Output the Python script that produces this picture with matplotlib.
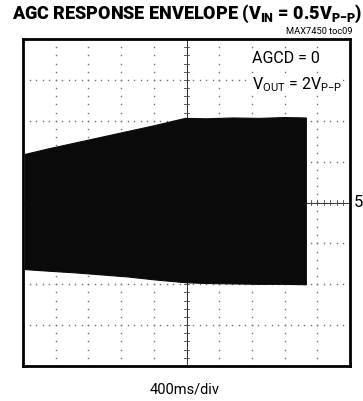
import matplotlib
matplotlib.use("Agg")
import matplotlib.pyplot as plt
import numpy as np

# ---- data (divisions: x 0..10 @400ms/div, y -4..4) ----
env_t = [0.06, 0.8, 1.6, 2.4, 3.2, 4.0, 4.95, 5.6, 6.4, 7.2, 8.0, 8.65]
env_top = [1.19, 1.33, 1.47, 1.61, 1.75, 1.89, 2.07, 2.06, 2.08, 2.07, 2.09, 2.08]
env_bot = [-1.63, -1.67, -1.71, -1.76, -1.81, -1.88, -1.95, -1.97, -1.98, -1.99, -1.99, -2.00]

title = r"AGC RESPONSE ENVELOPE (V$_{\mathbf{IN}}$ = 0.5V$_{\mathbf{P{-}P}}$)"
note = "MAX7450 toc09"
ann1 = "AGCD = 0"
ann2 = r"V$_{\mathrm{OUT}}$ = 2V$_{\mathrm{P{-}P}}$"
xlabel = "400ms/div"
marker_label = "5"

plt.rcParams['font.family'] = ['Roboto', 'DejaVu Sans']
plt.rcParams['mathtext.fontset'] = 'custom'
plt.rcParams['mathtext.rm'] = 'Roboto'
plt.rcParams['mathtext.bf'] = 'Roboto:black'

fig = plt.figure(figsize=(3.63, 4.02), dpi=100)
ax = fig.add_axes([23/363, 1-367/402, 327/363, 327/402])
ax.set_xlim(0, 10)
ax.set_ylim(-4, 4)
ax.set_xticks([]); ax.set_yticks([])
for s in ax.spines.values():
    s.set_linewidth(2.0)
    s.set_zorder(10)

# dotted grid
step = 0.2
xs = np.arange(0, 10.001, step)
ys = np.arange(-4, 4.001, step)
for gy in range(-3, 4):
    if gy == 0:
        continue
    ax.plot(xs, np.full_like(xs, gy), ls='none', marker='s', ms=1.0, mew=0, color='#707070', zorder=1)
for gx in range(1, 10):
    if gx == 5:
        continue
    ax.plot(np.full_like(ys, gx), ys, ls='none', marker='s', ms=1.0, mew=0, color='#707070', zorder=1)
# crosshair
ax.axvline(5, color='#333333', lw=0.7, zorder=1)
ax.axhline(0, color='#333333', lw=0.7, zorder=1)
for y in ys:
    ax.plot([4.92, 5.08], [y, y], color='#444444', lw=0.6, zorder=1)
for x in xs:
    ax.plot([x, x], [-0.07, 0.07], color='#444444', lw=0.6, zorder=1)

# envelope
ax.fill_between(env_t, env_top, env_bot, color='#0a0a0a', lw=0.8, edgecolor='#0a0a0a', zorder=3)

# annotations
ax.text(7.0, 3.55, ann1, fontsize=11.5, ha='left', va='center', zorder=5,
        bbox=dict(fc='white', ec='none', pad=0.5))
ax.text(7.0, 2.9, ann2, fontsize=11.5, ha='left', va='center', zorder=5,
        bbox=dict(fc='white', ec='none', pad=0.5))

fig.text(0.515, 0.966, title, fontsize=13, fontweight='black', ha='center', va='center')
fig.text(352/363, 1-31/402, note, fontsize=6.7, ha='right', va='center')
fig.text(354/363, 1-203/402, marker_label, fontsize=12, ha='left', va='center')
fig.text(185/363, 1-390/402, xlabel, fontsize=10.5, ha='center', va='center')

fig.savefig("out.png", dpi=100)
